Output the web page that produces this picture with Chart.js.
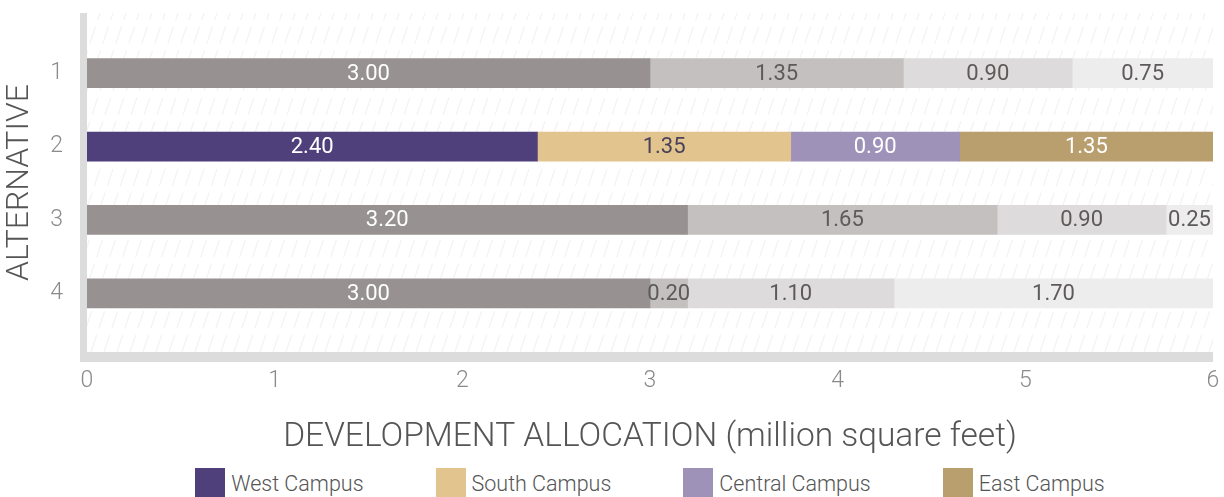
<!DOCTYPE html>
<html>
<head>
<meta charset="utf-8">
<title>Development allocation by alternative</title>
<script src="https://cdn.jsdelivr.net/npm/chart.js@4.4.1/dist/chart.umd.min.js"></script>
<style>
  body { margin: 0; background: #fff; font-family: Roboto, 'Liberation Sans', sans-serif; }
  #wrap { position: relative; width: 1224px; height: 458px; }
  #legend {
    display: flex; justify-content: center; gap: 72px;
    margin-left: 87px; width: 1126px; padding-top: 10px;
  }
  .legend-item { display: flex; align-items: center; font-size: 21.5px; font-weight: 300; color: #555; }
  .legend-swatch { width: 30px; height: 30px; margin-right: 6px; }
</style>
</head>
<body>
<div id="wrap"><canvas id="allocation"></canvas></div>
<div id="legend"></div>
<script>
const alternatives = ['1', '2', '3', '4']
const campuses = ['West Campus', 'South Campus', 'Central Campus', 'East Campus']
const westCampus = [3.00, 2.40, 3.20, 3.00]
const southCampus = [1.35, 1.35, 1.65, 0.20]
const centralCampus = [0.90, 0.90, 0.90, 1.10]
const eastCampus = [0.75, 1.35, 0.25, 1.70]
const xTicks = [0, 1, 2, 3, 4, 5, 6]

// alternative 2 is shown in campus colours, the others in grays
const HIGHLIGHT = '2'
const CAMPUS_COLORS = ['#4f3f7b', '#e2c48f', '#9e92b9', '#b99e6e']
const GRAY_SHADES = ['#979191', '#c4c0c0', '#dddbdb', '#eeeded']
const CAMPUS_TEXT = ['#ffffff', '#4a4158', '#ffffff', '#ffffff']
const GRAY_TEXT = ['#ffffff', '#5e5a5a', '#5e5a5a', '#5e5a5a']
const FONT = 'Roboto, "Liberation Sans", sans-serif'

const series = [westCampus, southCampus, centralCampus, eastCampus]

const datasets = series.map((values, d) => ({
  label: campuses[d],
  data: values.map((v, i) => ({ x: v, y: Number(alternatives[i]) })),
  backgroundColor: alternatives.map(a => (a === HIGHLIGHT ? CAMPUS_COLORS[d] : GRAY_SHADES[d])),
  labelColors: alternatives.map(a => (a === HIGHLIGHT ? CAMPUS_TEXT[d] : GRAY_TEXT[d])),
  barThickness: 29,
  borderWidth: 0,
}))

// fixed axis sizes, no extra room for the edge labels
const fixSize = (key, size) => scale => {
  scale[key] = size
  scale.paddingTop = 0
  scale.paddingBottom = 0
  scale.paddingLeft = 0
  scale.paddingRight = 0
}

// light frame on the left and bottom plus a faint diagonal hatch
const plotFrame = {
  id: 'plotFrame',
  beforeDatasetsDraw(chart) {
    const { ctx, chartArea: a } = chart
    ctx.save()
    ctx.beginPath()
    ctx.rect(a.left, a.top, a.right - a.left, a.bottom - a.top)
    ctx.clip()
    ctx.strokeStyle = '#f2f2f2'
    ctx.lineWidth = 1.2
    ctx.setLineDash([18, 7])
    const h = a.bottom - a.top
    for (let x = a.left - h / 3; x < a.right + 20; x += 13) {
      ctx.beginPath()
      ctx.moveTo(x, a.bottom)
      ctx.lineTo(x + h / 3, a.top)
      ctx.stroke()
    }
    ctx.restore()

    ctx.save()
    ctx.fillStyle = '#dcdcdc'
    ctx.fillRect(a.left - 7, a.top, 7, a.bottom - a.top + 10)
    ctx.fillRect(a.left - 7, a.bottom, a.right - a.left + 7, 10)
    ctx.restore()
  },
}

// value printed in the middle of every segment
const valueLabels = {
  id: 'valueLabels',
  afterDatasetsDraw(chart) {
    const { ctx } = chart
    ctx.save()
    ctx.font = '22px ' + FONT
    ctx.textAlign = 'center'
    ctx.textBaseline = 'middle'
    chart.data.datasets.forEach((ds, d) => {
      chart.getDatasetMeta(d).data.forEach((bar, i) => {
        ctx.fillStyle = ds.labelColors[i]
        ctx.fillText(ds.data[i].x.toFixed(2), (bar.x + bar.base) / 2, bar.y + 1)
      })
    })
    ctx.restore()
  },
}

const config = {
  type: 'bar',
  data: { datasets },
  options: {
    indexAxis: 'y',
    responsive: true,
    maintainAspectRatio: false,
    animation: false,
    layout: { padding: { top: 13, right: 11, bottom: 0, left: 0 } },
    plugins: {
      legend: { display: false },
      tooltip: { enabled: false },
    },
    scales: {
      x: {
        type: 'linear',
        stacked: true,
        min: 0,
        max: 6,
        afterBuildTicks: scale => {
          scale.ticks = xTicks.map(v => ({ value: v }))
        },
        afterFit: fixSize('height', 106),
        grid: { display: false, drawTicks: false },
        border: { display: false },
        ticks: {
          color: '#8a8a8a',
          padding: 15,
          font: { family: FONT, size: 23, weight: '300' },
        },
        title: {
          display: true,
          text: 'DEVELOPMENT ALLOCATION (million square feet)',
          color: '#555',
          font: { family: FONT, size: 33.5, weight: '300' },
          padding: { top: 16, bottom: 0 },
        },
      },
      y: {
        type: 'linear',
        stacked: true,
        reverse: true,
        offset: false,
        min: 0.18,
        max: 4.8,
        afterBuildTicks: scale => {
          scale.ticks = alternatives.map(a => ({ value: Number(a) }))
        },
        afterFit: fixSize('width', 87),
        grid: { display: false, drawTicks: false },
        border: { display: false },
        ticks: {
          callback: v => alternatives[v - 1],
          color: '#8a8a8a',
          padding: 24,
          font: { family: FONT, size: 23, weight: '300' },
        },
        title: {
          display: true,
          text: 'ALTERNATIVE',
          color: '#555',
          font: { family: FONT, size: 32, weight: '300' },
          padding: { top: 1, bottom: 9 },
        },
      },
    },
  },
  plugins: [plotFrame, valueLabels],
}

const allocationChart = new Chart(document.getElementById('allocation'), config)

// legend with the campus colours
const legendEl = document.getElementById('legend')
campuses.forEach((name, d) => {
  const item = document.createElement('div')
  item.className = 'legend-item'
  const swatch = document.createElement('span')
  swatch.className = 'legend-swatch'
  swatch.style.background = CAMPUS_COLORS[d]
  item.appendChild(swatch)
  item.appendChild(document.createTextNode(name))
  legendEl.appendChild(item)
})
</script>
</body>
</html>
